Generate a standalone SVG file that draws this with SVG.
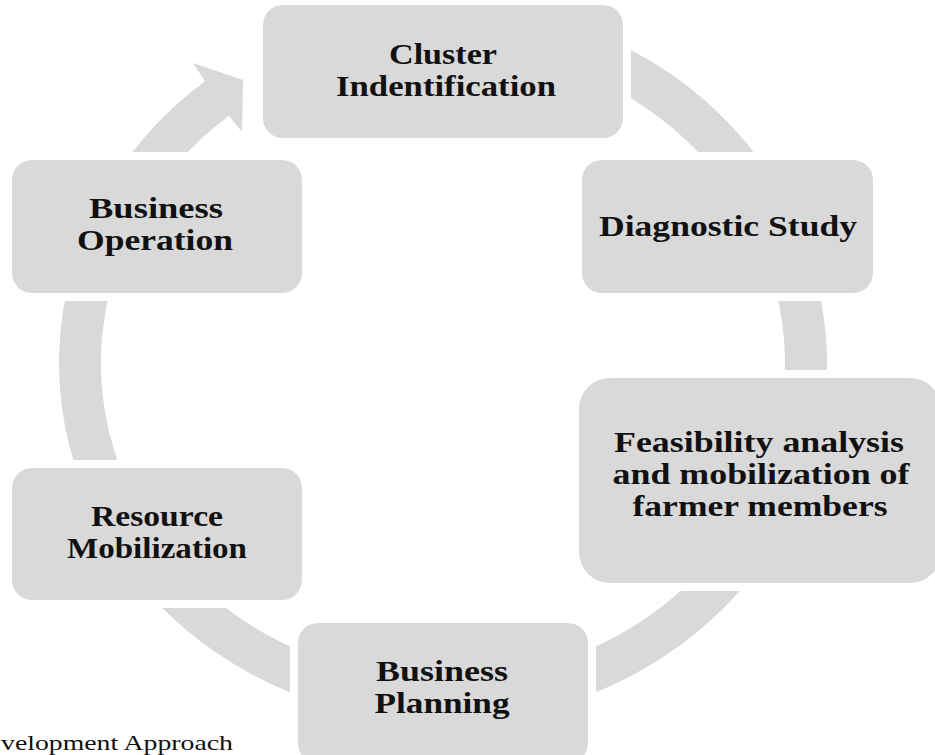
<svg xmlns="http://www.w3.org/2000/svg" width="935" height="755" viewBox="0 0 935 755">
  <style>
    .box { fill: #d9d9d9; stroke: #ffffff; stroke-width: 16; paint-order: stroke; }
    .lbl { font-family: "Liberation Serif", "Times New Roman", serif; font-weight: bold; font-size: 29px; fill: #111111; text-anchor: middle; }
    .cap { font-family: "Liberation Serif", "Times New Roman", serif; font-size: 21px; fill: #111111; }
  </style>
  <rect x="0" y="0" width="935" height="755" fill="#ffffff"/>
  <g id="connectors">
    <path d="M 600 35.4 A 384 359 0 1 1 205 81.3 L 193 63 L 243 80 L 242 132 L 229 115.7 A 342 317 0 1 0 600 81.4 Z" fill="#d9d9d9"/>
  </g>
  <g id="cluster">
    <rect class="box" x="263" y="5" width="360" height="133" rx="20"/>
    <text class="lbl" x="443" y="64" textLength="108" lengthAdjust="spacingAndGlyphs">Cluster</text>
    <text class="lbl" x="446" y="96" textLength="220" lengthAdjust="spacingAndGlyphs">Indentification</text>
  </g>
  <g id="diagnostic">
    <rect class="box" x="582" y="160" width="291" height="133" rx="20"/>
    <text class="lbl" x="728" y="236" textLength="258" lengthAdjust="spacingAndGlyphs">Diagnostic Study</text>
  </g>
  <g id="feasibility">
    <rect class="box" x="579" y="378" width="362" height="205" rx="31"/>
    <text class="lbl" x="759" y="452" textLength="290" lengthAdjust="spacingAndGlyphs">Feasibility analysis</text>
    <text class="lbl" x="761" y="484" textLength="297" lengthAdjust="spacingAndGlyphs">and mobilization of</text>
    <text class="lbl" x="760" y="516" textLength="255" lengthAdjust="spacingAndGlyphs">farmer members</text>
  </g>
  <g id="business-planning">
    <rect class="box" x="298" y="623" width="290" height="140" rx="20"/>
    <text class="lbl" x="442" y="681" textLength="132" lengthAdjust="spacingAndGlyphs">Business</text>
    <text class="lbl" x="442" y="713" textLength="135" lengthAdjust="spacingAndGlyphs">Planning</text>
  </g>
  <g id="resource-mobilization">
    <rect class="box" x="12" y="468" width="290" height="132" rx="20"/>
    <text class="lbl" x="157" y="526" textLength="132" lengthAdjust="spacingAndGlyphs">Resource</text>
    <text class="lbl" x="157" y="558" textLength="180" lengthAdjust="spacingAndGlyphs">Mobilization</text>
  </g>
  <g id="business-operation">
    <rect class="box" x="12" y="160" width="290" height="133" rx="20"/>
    <text class="lbl" x="156" y="218" textLength="134" lengthAdjust="spacingAndGlyphs">Business</text>
    <text class="lbl" x="155" y="250" textLength="156" lengthAdjust="spacingAndGlyphs">Operation</text>
  </g>
  <text class="cap" x="1" y="750" textLength="232" lengthAdjust="spacingAndGlyphs">velopment Approach</text>
</svg>
